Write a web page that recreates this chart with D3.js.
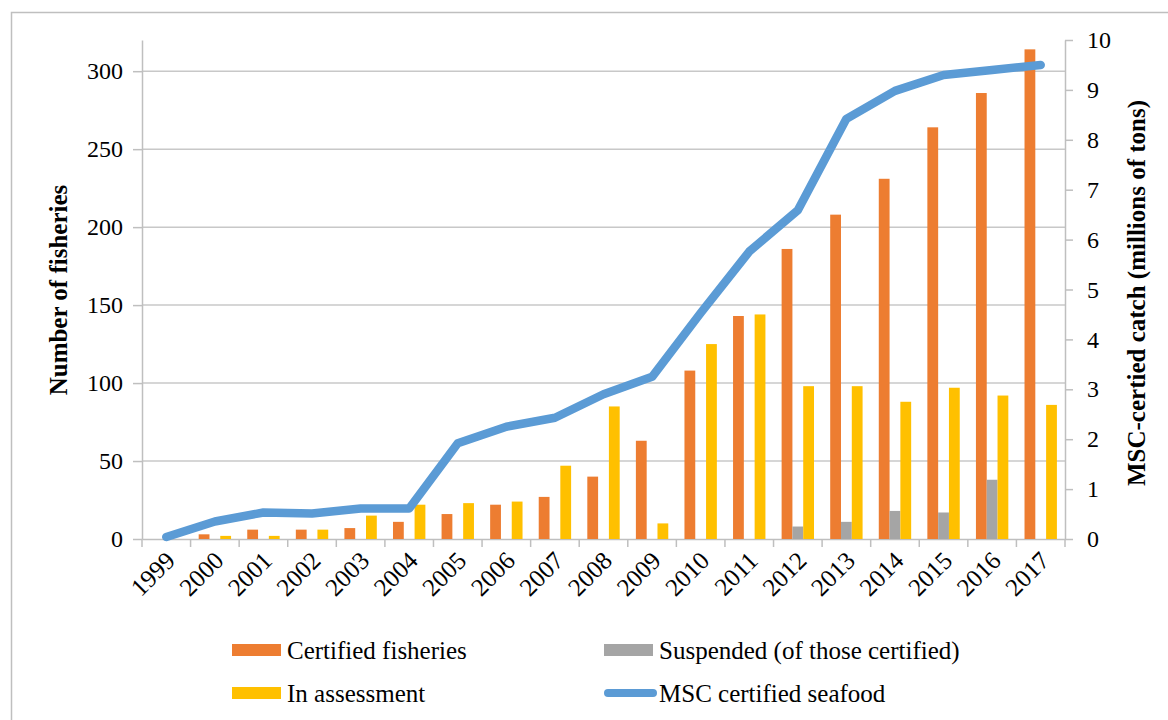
<!DOCTYPE html>
<html>
<head>
<meta charset="utf-8">
<script src="https://d3js.org/d3.v7.min.js"></script>
<style>
  body { margin: 0; background: #fff; }
  svg text { font-family: "Liberation Serif", "Times New Roman", serif; fill: #000; }
  .axis path, .axis line { stroke: #bfbfbf; }
</style>
</head>
<body>
<svg id="chart" width="1168" height="720"></svg>
<script>
var years = ["1999","2000","2001","2002","2003","2004","2005","2006","2007","2008",
             "2009","2010","2011","2012","2013","2014","2015","2016","2017"];
var certified  = [0, 3, 6, 6, 7, 11, 16, 22, 27, 40, 63, 108, 143, 186, 208, 231, 264, 286, 314];
var suspended  = [0, 0, 0, 0, 0, 0, 0, 0, 0, 0, 0, 0, 0, 8, 11, 18, 17, 38, 0];
var assessment = [0, 2, 2, 6, 15, 22, 23, 24, 47, 85, 10, 125, 144, 98, 98, 88, 97, 92, 86];
var seafood    = [0.04, 0.35, 0.53, 0.51, 0.61, 0.61, 1.92, 2.25, 2.43, 2.9, 3.25, 4.53, 5.76, 6.59, 8.42, 8.98, 9.3, 9.4, 9.5];
var leftTicks  = [0, 50, 100, 150, 200, 250, 300];
var rightTicks = [0, 1, 2, 3, 4, 5, 6, 7, 8, 9, 10];

var series = [
  {key: "cert", name: "Certified fisheries", values: certified, color: "#ED7D31"},
  {key: "susp", name: "Suspended (of those certified)", values: suspended, color: "#A5A5A5"},
  {key: "assess", name: "In assessment", values: assessment, color: "#FFC000"}
];

var svg = d3.select("#chart");
var plotLeft = 142, plotRight = 1065, plotTop = 40, plotBottom = 539;

// outer frame
svg.append("rect")
  .attr("x", 11.5).attr("y", 12.5)
  .attr("width", 1200).attr("height", 800)
  .attr("fill", "none").attr("stroke", "#bfbfbf").attr("stroke-width", 1.5);

var x = d3.scaleBand().domain(years).range([plotLeft, plotRight]).padding(0);
var xi = d3.scaleBand().domain(series.map(function(s) { return s.key; }))
  .range([0, x.bandwidth()]).paddingInner(0).paddingOuter(0.75);
var y = d3.scaleLinear().domain([0, 320]).range([plotBottom, plotTop]);
var y2 = d3.scaleLinear().domain([0, 10]).range([plotBottom, plotTop]);

// gridlines
svg.append("g").selectAll("line")
  .data(leftTicks.filter(function(d) { return d > 0; }))
  .enter().append("line")
  .attr("x1", plotLeft).attr("x2", plotRight)
  .attr("y1", function(d) { return y(d); }).attr("y2", function(d) { return y(d); })
  .attr("stroke", "#c8c8c8").attr("stroke-width", 1.5);

// left axis
var gl = svg.append("g").attr("class", "axis")
  .attr("transform", "translate(" + plotLeft + ",0)")
  .call(d3.axisLeft(y).tickValues(leftTicks).tickSize(9).tickSizeOuter(0).tickPadding(10));
gl.selectAll("text").style("font-size", "24px");
gl.selectAll("path, line").attr("stroke-width", 1.5);

// right axis
var gr = svg.append("g").attr("class", "axis")
  .attr("transform", "translate(" + plotRight + ",0)")
  .call(d3.axisRight(y2).tickValues(rightTicks).tickSize(8).tickSizeOuter(0).tickPadding(14));
gr.selectAll("text").style("font-size", "24px");
gr.selectAll("path, line").attr("stroke-width", 1.5);

// bottom axis
var gb = svg.append("g").attr("class", "axis")
  .attr("transform", "translate(0," + plotBottom + ")")
  .call(d3.axisBottom(x).tickSize(0).tickSizeOuter(0));
gb.select(".domain").attr("stroke-width", 1.5);
gb.selectAll(".tick text")
  .style("font-size", "25px")
  .style("text-anchor", "end")
  .attr("x", 0).attr("y", 0)
  .attr("dy", "0.35em")
  .attr("transform", "translate(4,17) rotate(-45)");
var seps = d3.range(years.length + 1).map(function(i) { return plotLeft + i * x.step(); });
gb.selectAll(".sep")
  .data(seps)
  .enter().append("line")
  .attr("class", "sep")
  .attr("x1", function(d) { return d; }).attr("x2", function(d) { return d; })
  .attr("y1", 0).attr("y2", 8)
  .attr("stroke", "#bfbfbf").attr("stroke-width", 1.5);

// bars
series.forEach(function(s) {
  svg.append("g").selectAll("rect")
    .data(s.values)
    .enter().append("rect")
    .attr("x", function(d, i) { return x(years[i]) + xi(s.key); })
    .attr("y", function(d) { return y(d); })
    .attr("width", xi.bandwidth())
    .attr("height", function(d) { return plotBottom - y(d); })
    .attr("fill", s.color);
});

// line
var line = d3.line()
  .x(function(d, i) { return x(years[i]) + x.bandwidth() / 2; })
  .y(function(d) { return y2(d); });
svg.append("path")
  .datum(seafood)
  .attr("d", line)
  .attr("fill", "none")
  .attr("stroke", "#5B9BD5")
  .attr("stroke-width", 8.5)
  .attr("stroke-linejoin", "round")
  .attr("stroke-linecap", "round");

// axis titles
svg.append("text")
  .attr("transform", "translate(67,290) rotate(-90)")
  .attr("text-anchor", "middle")
  .style("font-size", "25px").style("font-weight", "bold")
  .text("Number of fisheries");
svg.append("text")
  .attr("transform", "translate(1145,293) rotate(-90)")
  .attr("text-anchor", "middle")
  .style("font-size", "25px").style("font-weight", "bold")
  .text("MSC-certied catch (millions of tons)");

// legend
var legendItems = [
  {name: "Certified fisheries", color: "#ED7D31", type: "rect", x: 232, y: 650},
  {name: "Suspended (of those certified)", color: "#A5A5A5", type: "rect", x: 604, y: 650},
  {name: "In assessment", color: "#FFC000", type: "rect", x: 232, y: 693},
  {name: "MSC certified seafood", color: "#5B9BD5", type: "line", x: 604, y: 693}
];
var lg = svg.append("g").selectAll("g").data(legendItems).enter().append("g")
  .attr("transform", function(d) { return "translate(" + d.x + "," + d.y + ")"; });
lg.filter(function(d) { return d.type === "rect"; }).append("rect")
  .attr("x", 0).attr("y", -6).attr("width", 49).attr("height", 12)
  .attr("fill", function(d) { return d.color; });
lg.filter(function(d) { return d.type === "line"; }).append("line")
  .attr("x1", 4).attr("x2", 49).attr("y1", 0).attr("y2", 0)
  .attr("stroke", function(d) { return d.color; })
  .attr("stroke-width", 8).attr("stroke-linecap", "round");
lg.append("text")
  .attr("x", 55).attr("y", 0).attr("dy", "0.35em")
  .style("font-size", "25px")
  .text(function(d) { return d.name; });
</script>
</body>
</html>
